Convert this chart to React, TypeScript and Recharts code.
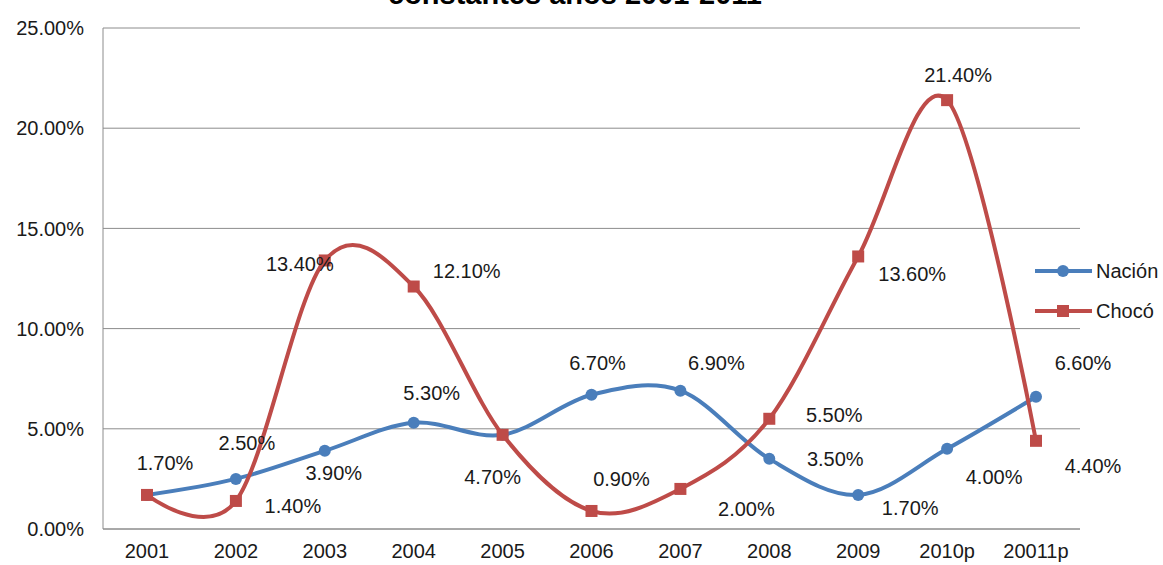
import { CartesianGrid, LabelList, Legend, Line, LineChart, XAxis, YAxis } from 'recharts'

const years = ['2001', '2002', '2003', '2004', '2005', '2006', '2007', '2008', '2009', '2010p', '20011p']
const nacion = [1.7, 2.5, 3.9, 5.3, 4.7, 6.7, 6.9, 3.5, 1.7, 4.0, 6.6]
const choco = [1.7, 1.4, 13.4, 12.1, 4.7, 0.9, 2.0, 5.5, 13.6, 21.4, 4.4]
const yTicks = [0, 5, 10, 15, 20, 25]
const title = 'constantes años 2001-2011'

const BLUE = '#4a7ebb'
const RED = '#be4b48'
const GRID = '#8c8c8c'
const INK = '#1a1a1a'
const FONT = '"Liberation Sans", Arial, sans-serif'

// the labels were dragged around by hand in the original, so each one gets
// its own nudge from the point (null = label hidden behind the other series)
const nacionLabelShift: [number, number][] = [
  [18, -32], [11, -36], [9, 22], [18, -30], [-10, 42], [6, -32],
  [36, -28], [66, 0], [52, 13], [47, 28], [47, -34],
]
const chocoLabelShift: ([number, number] | null)[] = [
  null, [57, 5], [-25, 4], [53, -16], null, [30, -32],
  [66, 20], [65, -4], [54, 18], [11, -25], [57, 25],
]

const data = years.map((year, i) => ({ year, nacion: nacion[i], choco: choco[i] }))

// Excel's "smoothed line" is close to a cardinal spline with k = 1/6
class ExcelSmooth {
  _context: any
  _k = 1 / 6
  _line: number = NaN
  _point = 0
  _x0 = NaN; _x1 = NaN; _x2 = NaN
  _y0 = NaN; _y1 = NaN; _y2 = NaN
  constructor(context: any) {
    this._context = context
  }
  areaStart() { this._line = 0 }
  areaEnd() { this._line = NaN }
  lineStart() {
    this._x0 = this._x1 = this._x2 = this._y0 = this._y1 = this._y2 = NaN
    this._point = 0
  }
  lineEnd() {
    if (this._point === 2) this._context.lineTo(this._x2, this._y2)
    else if (this._point === 3) this.seg(this._x1, this._y1)
    if (this._line || (this._line !== 0 && this._point === 1)) this._context.closePath()
    this._line = 1 - this._line
  }
  seg(x: number, y: number) {
    const k = this._k
    this._context.bezierCurveTo(
      this._x1 + k * (this._x2 - this._x0),
      this._y1 + k * (this._y2 - this._y0),
      this._x2 + k * (this._x1 - x),
      this._y2 + k * (this._y1 - y),
      this._x2,
      this._y2,
    )
  }
  point(x: number, y: number) {
    x = +x
    y = +y
    if (this._point === 0) {
      this._point = 1
      this._line ? this._context.lineTo(x, y) : this._context.moveTo(x, y)
    } else if (this._point === 1) {
      this._point = 2
      this._x1 = x
      this._y1 = y
    } else {
      this._point = 3
      this.seg(x, y)
    }
    this._x0 = this._x1; this._x1 = this._x2; this._x2 = x
    this._y0 = this._y1; this._y1 = this._y2; this._y2 = y
  }
}
const excelCurve = (context: any) => new ExcelSmooth(context)

const pct = (v: number) => `${v.toFixed(2)}%`

function shiftedLabel(shifts: ([number, number] | null)[]) {
  return (props: any) => {
    const { x, y, value, index } = props
    const s = shifts[index]
    if (!s || value == null) return null
    return (
      <text
        x={x + s[0]}
        y={y + s[1]}
        textAnchor="middle"
        dominantBaseline="central"
        fontFamily={FONT}
        fontSize={20}
        fill={INK}
      >
        {pct(value)}
      </text>
    )
  }
}

function SquareDot(props: any) {
  const { cx, cy } = props
  if (cx == null || cy == null) return null
  return <rect x={cx - 6} y={cy - 6} width={12} height={12} fill={RED} />
}

function LegendBox() {
  const rows = [
    { name: 'Nación', color: BLUE, square: false },
    { name: 'Chocó', color: RED, square: true },
  ]
  return (
    <svg width={130} height={80}>
      {rows.map((r, i) => {
        const cy = 16 + i * 40
        return (
          <g key={r.name}>
            <line x1={0} x2={57} y1={cy} y2={cy} stroke={r.color} strokeWidth={4} />
            {r.square ? (
              <rect x={22} y={cy - 6} width={12} height={12} fill={r.color} />
            ) : (
              <circle cx={28} cy={cy} r={6} fill={r.color} />
            )}
            <text x={61} y={cy} dominantBaseline="central" fontFamily={FONT} fontSize={20} fill={INK}>
              {r.name}
            </text>
          </g>
        )
      })}
    </svg>
  )
}

export default function App() {
  return (
    <div style={{ position: 'absolute', left: 0, top: 0, width: 1163, height: 565, background: '#fff' }}>
      <svg width={1163} height={30} style={{ position: 'absolute', left: 0, top: 0 }}>
        <text x={575} y={4} textAnchor="middle" fontFamily={FONT} fontWeight="bold" fontSize={29} fill="#000">
          {title}
        </text>
      </svg>
      <LineChart
        width={1163}
        height={565}
        data={data}
        margin={{ top: 28, right: 83, bottom: 0, left: 0 }}
      >
        <CartesianGrid vertical={false} stroke={GRID} strokeWidth={1} />
        <XAxis
          dataKey="year"
          height={36}
          padding={{ left: 44, right: 44 }}
          tickLine={false}
          tickSize={0}
          tickMargin={15}
          axisLine={{ stroke: GRID }}
          tick={{ fontSize: 20, fill: INK, fontFamily: FONT }}
          interval={0}
        />
        <YAxis
          width={103}
          domain={[0, 25]}
          ticks={yTicks}
          tickFormatter={pct}
          tickLine={false}
          tickSize={0}
          tickMargin={19}
          axisLine={{ stroke: GRID }}
          tick={{ fontSize: 20, fill: INK, fontFamily: FONT }}
        />
        <Legend
          layout="vertical"
          align="center"
          verticalAlign="middle"
          content={() => <LegendBox />}
          wrapperStyle={{ left: 1035, top: 255, width: 130, height: 80 }}
        />
        <Line
          dataKey="nacion"
          name="Nación"
          type={excelCurve as any}
          stroke={BLUE}
          strokeWidth={4}
          dot={{ r: 6, fill: BLUE, stroke: BLUE, strokeWidth: 0 }}
          activeDot={false}
          isAnimationActive={false}
        >
          <LabelList dataKey="nacion" content={shiftedLabel(nacionLabelShift)} />
        </Line>
        <Line
          dataKey="choco"
          name="Chocó"
          type={excelCurve as any}
          stroke={RED}
          strokeWidth={4}
          dot={<SquareDot />}
          activeDot={false}
          isAnimationActive={false}
        >
          <LabelList dataKey="choco" content={shiftedLabel(chocoLabelShift)} />
        </Line>
      </LineChart>
    </div>
  )
}
